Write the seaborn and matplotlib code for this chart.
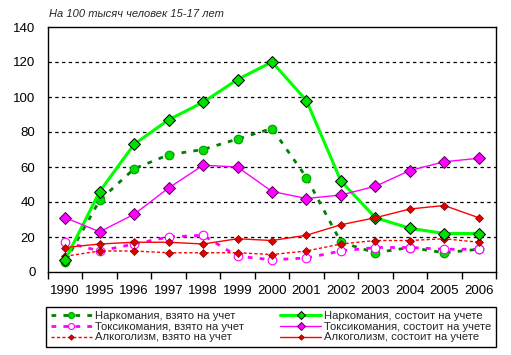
import numpy as np
import pandas as pd
import matplotlib
matplotlib.use("Agg")
import matplotlib.pyplot as plt
import seaborn as sns
from matplotlib.ticker import FixedLocator

sns.set_theme(style="white")
plt.rcParams['font.family'] = ['Liberation Sans', 'DejaVu Sans']

years = ["1990", "1995", "1996", "1997", "1998", "1999", "2000",
         "2001", "2002", "2003", "2004", "2005", "2006"]

narko_vzyato = [6, 41, 59, 67, 70, 76, 82, 54, 17, 11, 14, 11, 13]
toks_vzyato = [17, 12, 16, 20, 21, 9, 7, 8, 12, 14, 14, 13, 13]
alko_vzyato = [9, 12, 12, 11, 11, 11, 10, 12, 16, 18, 18, 19, 17]
narko_sostoit = [7, 46, 73, 87, 97, 110, 120, 98, 52, 31, 25, 22, 22]
toks_sostoit = [31, 23, 33, 48, 61, 60, 46, 42, 44, 49, 58, 63, 65]
alko_sostoit = [14, 16, 17, 17, 16, 19, 18, 21, 27, 31, 36, 38, 31]

labels = ["Наркомания, взято на учет", "Токсикомания, взято на учет",
          "Алкоголизм, взято на учет", "Наркомания, состоит на учете",
          "Токсикомания, состоит на учете", "Алкоголизм, состоит на учете"]

title = "На 100 тысяч человек 15-17 лет"

fig = plt.figure(figsize=(5.11, 3.55), dpi=100)
ax = fig.add_axes([48/511, 1 - 272/355, 448/511, 245/355])

styles = [
    dict(data=narko_vzyato, color="#008000", lw=2.0, ls=(0, (1.7, 2.6)), marker="o", ms=6.2,
         mfc="#00E000", mec="#00A000", mew=0.8, z=3),
    dict(data=toks_vzyato, color="#FF00FF", lw=2.0, ls=(0, (1.7, 2.6)), marker="o", ms=6.2,
         mfc="white", mec="#FF00FF", mew=0.8, z=4),
    dict(data=alko_vzyato, color="#FF0000", lw=1.0, ls=(0, (2.3, 1.6)), marker="D", ms=4.0,
         mfc="#E00000", mec="#800000", mew=0.5, z=5),
    dict(data=narko_sostoit, color="#00FF00", lw=2.2, ls="-", marker="D", ms=6.0,
         mfc="#00E000", mec="black", mew=0.7, z=6),
    dict(data=toks_sostoit, color="#FF00FF", lw=1.0, ls="-", marker="D", ms=6.0,
         mfc="#FF00FF", mec="#500050", mew=0.7, z=6),
    dict(data=alko_sostoit, color="#FF0000", lw=1.0, ls="-", marker="D", ms=4.0,
         mfc="#E00000", mec="#800000", mew=0.5, z=7),
]

for lab, s in zip(labels, styles):
    df = pd.DataFrame({"year": years, "value": s["data"]})
    sns.lineplot(data=df, x="year", y="value", ax=ax, color=s["color"], lw=s["lw"],
                 linestyle=s["ls"], marker=s["marker"], markersize=s["ms"],
                 markerfacecolor=s["mfc"], markeredgecolor=s["mec"],
                 markeredgewidth=s["mew"], zorder=s["z"], label=lab, legend=False)

ax.set_xlim(-0.5, len(years) - 0.5)
ax.set_ylim(0, 140)
ax.set_yticks(np.arange(0, 141, 20))
ax.set_xlabel("")
ax.set_ylabel("")
ax.xaxis.set_minor_locator(FixedLocator(np.arange(-0.5, len(years), 1.0)))
ax.tick_params(axis="x", which="major", length=0, pad=9, labelsize=9.5, colors="black")
ax.tick_params(axis="x", which="minor", length=5, width=1, color="black", direction="out", bottom=True)
ax.tick_params(axis="y", which="major", length=0, pad=9, labelsize=9.5, colors="black")
for y in range(20, 140, 20):
    ax.axhline(y, color="black", lw=0.9, ls=(0, (2.7, 2.7)), zorder=1)
for sp in ax.spines.values():
    sp.set_visible(True)
    sp.set_color("black")
    sp.set_linewidth(1.0)
ax.grid(False)

fig.text(49/511, 1 - 14/355, title, fontsize=8, style="italic", va="center", ha="left")

handles, labs = ax.get_legend_handles_labels()
leg = fig.legend(handles, labs, loc="lower left",
                 bbox_to_anchor=(46/511, 1 - 347/355, 450/511, 41/355),
                 mode="expand", ncol=2, fontsize=8.1, frameon=True, fancybox=False,
                 edgecolor="black", framealpha=1, handlelength=3.7, handletextpad=0.25,
                 borderpad=0.4, labelspacing=0.05, columnspacing=1.0, markerscale=0.7,
                 borderaxespad=0)
leg.get_frame().set_linewidth(1.0)

fig.savefig("out.png", dpi=100)
